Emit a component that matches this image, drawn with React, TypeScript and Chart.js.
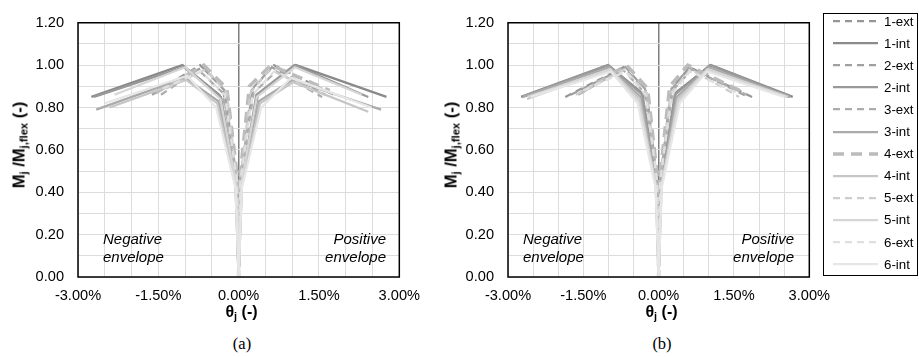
import React, { useEffect, useRef } from 'react';
import { Chart, registerables } from 'chart.js';

Chart.register(...registerables);
Chart.defaults.font.family = "'Liberation Sans', Arial, sans-serif";

// ---------- data ----------
const SERIES = ['1-ext', '1-int', '2-ext', '2-int', '3-ext', '3-int', '4-ext', '4-int', '5-ext', '5-int', '6-ext', '6-int'];
const COLORS = ['#969696', '#8a8a8a', '#a0a0a0', '#999999', '#adadad', '#aaaaaa', '#bbbbbb', '#c6c6c6', '#cdcdcd', '#d6d6d6', '#dfdfdf', '#e6e6e6'];
const DASHED = [true, false, true, false, true, false, true, false, true, false, true, false];
const WIDTHS = [2.25, 2.25, 2.25, 2.25, 2.25, 2.25, 3.5, 2.25, 2.25, 2.25, 2.25, 2.25];

const X_MIN = -3;
const X_MAX = 3;
const X_STEP = 0.5;
const Y_MIN = 0;
const Y_MAX = 1.2;
const Y_STEP = 0.1;

// (a) rotation theta_j (%) and normalised moment for each series
const A_THETA: number[][] = [
  [-1.50, -0.72, -0.30, -0.03, 0, 0.03, 0.24, 0.66, 1.78],
  [-2.75, -1.05, -0.36, -0.05, 0, 0.05, 0.36, 1.07, 2.76],
  [-1.62, -0.68, -0.26, -0.03, 0, 0.03, 0.26, 0.62, 1.62],
  [-2.70, -1.02, -0.33, -0.05, 0, 0.05, 0.33, 1.04, 2.42],
  [-1.45, -0.76, -0.30, -0.03, 0, 0.03, 0.28, 0.70, 1.56],
  [-2.66, -1.00, -0.38, -0.06, 0, 0.06, 0.38, 1.00, 2.66],
  [-1.55, -0.65, -0.22, -0.02, 0, 0.02, 0.20, 0.60, 1.70],
  [-2.41, -0.98, -0.40, -0.06, 0, 0.06, 0.40, 1.02, 2.42],
  [-1.35, -0.62, -0.22, -0.03, 0, 0.03, 0.22, 0.58, 1.48],
  [-2.32, -1.00, -0.34, -0.05, 0, 0.05, 0.34, 1.05, 2.30],
  [-1.42, -0.70, -0.26, -0.03, 0, 0.03, 0.26, 0.66, 1.62],
  [-2.50, -0.96, -0.42, -0.06, 0, 0.06, 0.42, 0.98, 2.48],
];
const A_M: number[][] = [
  [0.88, 1.00, 0.90, 0.45, 0, 0.45, 0.88, 1.00, 0.86],
  [0.85, 1.00, 0.86, 0.45, 0, 0.45, 0.86, 1.00, 0.85],
  [0.86, 0.99, 0.88, 0.45, 0, 0.45, 0.89, 0.99, 0.86],
  [0.85, 0.99, 0.85, 0.44, 0, 0.44, 0.86, 1.00, 0.85],
  [0.86, 0.98, 0.87, 0.46, 0, 0.46, 0.87, 0.97, 0.85],
  [0.79, 0.94, 0.83, 0.44, 0, 0.44, 0.83, 0.93, 0.79],
  [0.87, 1.00, 0.89, 0.46, 0, 0.46, 0.90, 1.00, 0.88],
  [0.80, 0.93, 0.82, 0.43, 0, 0.43, 0.82, 0.92, 0.78],
  [0.89, 0.98, 0.87, 0.45, 0, 0.45, 0.87, 0.98, 0.87],
  [0.86, 0.99, 0.84, 0.44, 0, 0.44, 0.85, 0.99, 0.86],
  [0.89, 0.97, 0.86, 0.45, 0, 0.45, 0.86, 0.97, 0.88],
  [0.82, 0.95, 0.80, 0.42, 0, 0.42, 0.80, 0.94, 0.80],
];

// (b)
const B_THETA: number[][] = [
  [-1.86, -0.70, -0.26, -0.03, 0, 0.03, 0.26, 0.62, 1.86],
  [-2.74, -1.01, -0.34, -0.05, 0, 0.05, 0.34, 1.04, 2.67],
  [-1.75, -0.66, -0.24, -0.03, 0, 0.03, 0.24, 0.60, 1.78],
  [-2.72, -1.00, -0.32, -0.05, 0, 0.05, 0.32, 1.02, 2.62],
  [-1.60, -0.72, -0.28, -0.03, 0, 0.03, 0.28, 0.66, 1.75],
  [-2.70, -0.98, -0.36, -0.05, 0, 0.05, 0.36, 1.00, 2.60],
  [-1.55, -0.64, -0.22, -0.02, 0, 0.02, 0.22, 0.58, 1.70],
  [-2.62, -0.97, -0.38, -0.06, 0, 0.06, 0.38, 0.98, 2.58],
  [-1.65, -0.68, -0.24, -0.03, 0, 0.03, 0.24, 0.64, 1.60],
  [-2.60, -0.96, -0.40, -0.06, 0, 0.06, 0.40, 0.97, 2.55],
  [-1.50, -0.66, -0.26, -0.03, 0, 0.03, 0.26, 0.62, 1.55],
  [-2.55, -0.95, -0.42, -0.06, 0, 0.06, 0.42, 0.96, 2.50],
];
const B_M: number[][] = [
  [0.85, 0.99, 0.88, 0.45, 0, 0.45, 0.89, 0.99, 0.85],
  [0.85, 1.00, 0.87, 0.45, 0, 0.45, 0.87, 1.00, 0.85],
  [0.86, 0.99, 0.88, 0.45, 0, 0.45, 0.88, 0.99, 0.85],
  [0.85, 1.00, 0.86, 0.44, 0, 0.44, 0.86, 1.00, 0.85],
  [0.86, 0.98, 0.87, 0.46, 0, 0.46, 0.88, 0.98, 0.86],
  [0.85, 0.99, 0.85, 0.44, 0, 0.44, 0.85, 0.99, 0.85],
  [0.87, 1.00, 0.89, 0.46, 0, 0.46, 0.90, 1.00, 0.87],
  [0.84, 0.98, 0.84, 0.43, 0, 0.43, 0.84, 0.98, 0.85],
  [0.86, 0.98, 0.87, 0.45, 0, 0.45, 0.87, 0.98, 0.85],
  [0.85, 0.98, 0.83, 0.44, 0, 0.44, 0.83, 0.98, 0.85],
  [0.88, 0.97, 0.86, 0.45, 0, 0.45, 0.86, 0.97, 0.87],
  [0.85, 0.97, 0.82, 0.42, 0, 0.42, 0.82, 0.97, 0.85],
];

// ---------- styling helpers ----------
const dashFor = (i: number) => (DASHED[i] ? (WIDTHS[i] > 3 ? [11, 7] : [7, 5]) : []);

const framePlugin = {
  id: 'frame',
  afterDraw(chart: any) {
    const { ctx, chartArea } = chart;
    ctx.save();
    ctx.strokeStyle = '#000';
    ctx.lineWidth = 1.5;
    ctx.strokeRect(chartArea.left, chartArea.top, chartArea.right - chartArea.left, chartArea.bottom - chartArea.top);
    ctx.restore();
  },
};

function buildConfig(theta: number[][], m: number[][], yWidth: number, padRight: number, xHeight: number): any {
  return {
    type: 'line',
    data: {
      datasets: SERIES.map((name, i) => ({
        label: name,
        data: theta[i].map((x, k) => ({ x, y: m[i][k] })),
        borderColor: COLORS[i],
        backgroundColor: COLORS[i],
        borderWidth: WIDTHS[i],
        borderDash: dashFor(i),
        pointRadius: 0,
        tension: 0,
        fill: false,
        order: -i,
      })),
    },
    options: {
      responsive: false,
      animation: false,
      layout: { padding: { left: 0, right: padRight, top: 13, bottom: 0 } },
      plugins: { legend: { display: false }, tooltip: { enabled: false } },
      scales: {
        x: {
          type: 'linear',
          min: X_MIN,
          max: X_MAX,
          ticks: {
            stepSize: X_STEP,
            autoSkip: false,
            maxRotation: 0,
            padding: 10,
            color: '#000',
            font: { size: 14.6 },
            callback: (v: any, i: number) => (i % 3 === 0 ? Number(v).toFixed(2) + '%' : ''),
          },
          grid: {
            drawTicks: false,
            color: (c: any) => (c.tick && Math.abs(c.tick.value) < 1e-9 ? '#7f7f7f' : '#dcdcdc'),
            lineWidth: (c: any) => (c.tick && Math.abs(c.tick.value) < 1e-9 ? 1.5 : 1),
          },
          border: { display: false },
          afterFit: (s: any) => {
            s.height = xHeight;
          },
        },
        y: {
          min: Y_MIN,
          max: Y_MAX,
          ticks: {
            stepSize: Y_STEP,
            autoSkip: false,
            padding: 14,
            color: '#000',
            font: { size: 14.6 },
            callback: (v: any, i: number) => (i % 2 === 0 ? Number(v).toFixed(2) : ''),
          },
          grid: { drawTicks: false, color: '#dcdcdc', lineWidth: 1 },
          border: { display: false },
          afterFit: (s: any) => {
            s.width = yWidth;
          },
        },
      },
    },
    plugins: [framePlugin],
  };
}

function LineChart(props: { theta: number[][]; m: number[][]; left: number; width: number; yWidth: number; padRight: number }) {
  const ref = useRef<HTMLCanvasElement>(null);
  const H = 310;
  useEffect(() => {
    const chart = new Chart(ref.current as HTMLCanvasElement, buildConfig(props.theta, props.m, props.yWidth, props.padRight, H - 277));
    return () => chart.destroy();
  }, []);
  return (
    <canvas
      ref={ref}
      width={props.width}
      height={H}
      style={{ position: 'absolute', left: props.left, top: 0, width: props.width, height: H }}
    />
  );
}

const subStyle: React.CSSProperties = { fontSize: '0.68em', verticalAlign: '-0.3em', lineHeight: 0 };

function YTitle({ cx }: { cx: number }) {
  return (
    <div
      style={{
        position: 'absolute',
        left: cx,
        top: 145,
        transform: 'translate(-50%, -50%) rotate(-90deg)',
        whiteSpace: 'nowrap',
        fontFamily: "'Liberation Sans', Arial, sans-serif",
        fontWeight: 'bold',
        fontSize: 16.5,
        color: '#000',
      }}
    >
      M<sub style={subStyle}>j</sub> /M<sub style={subStyle}>j,flex</sub> (-)
    </div>
  );
}

function XTitle({ cx }: { cx: number }) {
  return (
    <div
      style={{
        position: 'absolute',
        left: cx,
        top: 312,
        transform: 'translate(-50%, -50%)',
        whiteSpace: 'nowrap',
        fontFamily: "'Liberation Sans', Arial, sans-serif",
        fontWeight: 'bold',
        fontSize: 16,
        color: '#000',
      }}
    >
      θ<sub style={subStyle}>j</sub> (-)
    </div>
  );
}

function Caption({ cx, text }: { cx: number; text: string }) {
  return (
    <div
      style={{
        position: 'absolute',
        left: cx,
        top: 344,
        transform: 'translate(-50%, -50%)',
        fontFamily: "'Liberation Serif', 'Times New Roman', serif",
        fontSize: 16.5,
        color: '#000',
        whiteSpace: 'nowrap',
      }}
    >
      {text}
    </div>
  );
}

function Note({ x, right, lines }: { x: number; right?: boolean; lines: string[] }) {
  const style: React.CSSProperties = {
    position: 'absolute',
    top: 230,
    fontFamily: "'Liberation Sans', Arial, sans-serif",
    fontStyle: 'italic',
    fontSize: 15,
    lineHeight: '18px',
    color: '#000',
    whiteSpace: 'nowrap',
    textAlign: right ? 'right' : 'left',
  };
  if (right) style.right = 919 - x;
  else style.left = x;
  return (
    <div style={style}>
      {lines.map((l, i) => (
        <div key={i}>{l}</div>
      ))}
    </div>
  );
}

function Legend() {
  return (
    <div>
      <div
        style={{
          position: 'absolute',
          left: 823,
          top: 13,
          width: 93,
          height: 261,
          border: '1px solid #000',
        }}
      />
      {SERIES.map((name, i) => {
        const cy = 21 + i * 22.1;
        return (
          <div key={name} style={{ position: 'absolute', left: 833, top: cy - 9, height: 18, display: 'flex', alignItems: 'center' }}>
            <svg width={45} height={8} style={{ display: 'block' }}>
              <line
                x1={0}
                y1={4}
                x2={45}
                y2={4}
                stroke={COLORS[i]}
                strokeWidth={WIDTHS[i]}
                strokeDasharray={DASHED[i] ? dashFor(i).join(' ') : undefined}
              />
            </svg>
            <span
              style={{
                marginLeft: 6,
                fontFamily: "'Liberation Sans', Arial, sans-serif",
                fontSize: 13.3,
                color: '#000',
                whiteSpace: 'nowrap',
              }}
            >
              {name}
            </span>
          </div>
        );
      })}
    </div>
  );
}

export default function App() {
  return (
    <div style={{ position: 'fixed', left: 0, top: 0, width: 919, height: 357, background: '#fff', overflow: 'hidden' }}>
      <LineChart theta={A_THETA} m={A_M} left={0} width={430} yWidth={78} padRight={25} />
      <LineChart theta={B_THETA} m={B_M} left={440} width={400} yWidth={68} padRight={25} />
      <YTitle cx={19} />
      <YTitle cx={451} />
      <XTitle cx={241.5} />
      <XTitle cx={661.5} />
      <Caption cx={242} text="(a)" />
      <Caption cx={662} text="(b)" />
      <Note x={103} lines={['Negative', 'envelope']} />
      <Note x={386} right lines={['Positive', 'envelope']} />
      <Note x={523} lines={['Negative', 'envelope']} />
      <Note x={794} right lines={['Positive', 'envelope']} />
      <Legend />
    </div>
  );
}
